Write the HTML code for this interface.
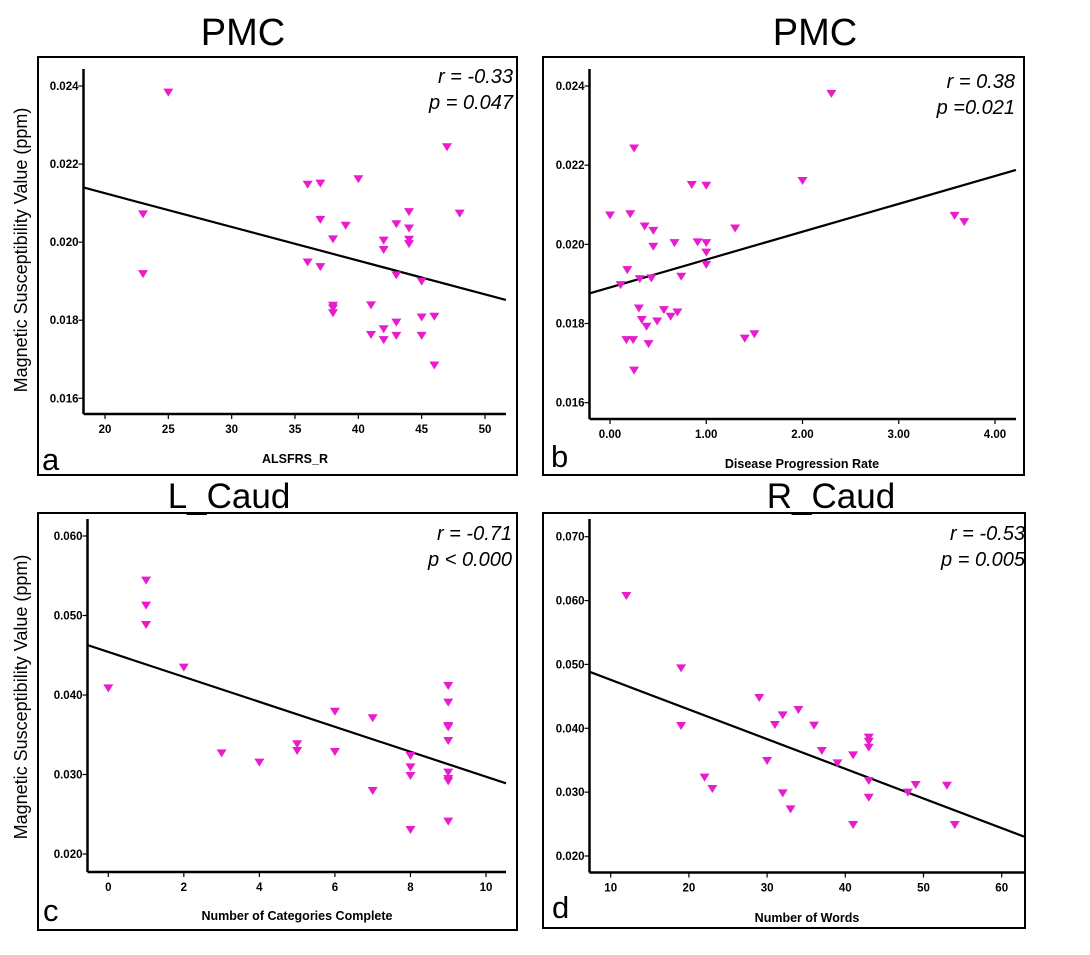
<!DOCTYPE html>
<html><head><meta charset="utf-8"><style>
html,body{margin:0;padding:0;background:#fff;width:1090px;height:955px;overflow:hidden}
svg{display:block;font-family:"Liberation Sans",sans-serif}
</style></head><body>
<svg id="fig" width="1090" height="955" viewBox="0 0 1090 955"></svg>
<script>
// Panel a: ALSFRS_R vs PMC
const aX=[25,23,23,47,48,36,37,40,37,39,38,36,37,43,44,44,44,44,42,42,43,45,38,38,38,41,45,46,43,42,41,43,45,42,46];
const aY=[0.02383,0.02071,0.01918,0.02243,0.02073,0.02147,0.02150,0.02161,0.02057,0.02042,0.02007,0.01948,0.01936,0.02046,0.02077,0.02035,0.02006,0.01995,0.02004,0.01980,0.01915,0.01899,0.01837,0.01830,0.01818,0.01838,0.01807,0.01809,0.01794,0.01777,0.01762,0.01760,0.01760,0.01749,0.01684];
const aXTicks=[20,25,30,35,40,45,50];
const aYTicks=[0.016,0.018,0.020,0.022,0.024];
const aLine=[[18.3,0.0214],[51.65,0.01852]];
// Panel b: Disease progression rate vs PMC
const bX=[2.30,0.25,2.00,0.85,1.00,0.00,0.21,3.58,3.68,1.30,0.36,0.45,0.45,0.67,0.91,1.00,1.00,1.00,0.18,0.11,0.31,0.43,0.74,0.30,0.56,0.70,0.63,0.33,0.49,0.38,0.17,0.24,0.40,1.40,1.50,0.25];
const bY=[0.02380,0.02242,0.02160,0.02150,0.02148,0.02073,0.02076,0.02072,0.02056,0.02040,0.02045,0.02034,0.01994,0.02003,0.02005,0.02003,0.01979,0.01948,0.01935,0.01897,0.01912,0.01914,0.01918,0.01838,0.01834,0.01828,0.01817,0.01809,0.01805,0.01792,0.01758,0.01758,0.01748,0.01762,0.01773,0.01681];
const bXTicks=[0,1,2,3,4];
const bXTickLabels=["0.00","1.00","2.00","3.00","4.00"];
const bYTicks=[0.016,0.018,0.020,0.022,0.024];
const bLine=[[-0.215,0.01876],[4.218,0.02188]];
// Panel c: Categories complete vs L_Caud
const cX=[0,1,1,1,2,3,4,5,5,6,6,7,7,8,8,8,8,9,9,9,9,9,9,9,9,9];
const cY=[0.04084,0.05438,0.05124,0.04880,0.04344,0.03266,0.03149,0.03380,0.03296,0.03790,0.03283,0.03707,0.02792,0.03233,0.03090,0.02981,0.02302,0.04113,0.03904,0.03610,0.03593,0.03421,0.03023,0.02943,0.02914,0.02407];
const cXTicks=[0,2,4,6,8,10];
const cYTicks=[0.020,0.030,0.040,0.050,0.060];
const cLine=[[-0.556,0.04629],[10.53,0.02889]];
// Panel d: Number of words vs R_Caud
const dX=[12,19,19,22,23,29,30,31,32,32,33,34,36,37,39,41,41,43,43,43,43,43,48,49,53,54];
const dY=[0.06071,0.04938,0.04036,0.03227,0.03049,0.04474,0.03487,0.04051,0.04202,0.02981,0.02731,0.04286,0.04041,0.03644,0.03451,0.03576,0.02485,0.03853,0.03790,0.03696,0.03174,0.02913,0.02992,0.03112,0.03101,0.02485];
const dXTicks=[10,20,30,40,50,60];
const dYTicks=[0.020,0.030,0.040,0.050,0.060,0.070];
const dLine=[[7.27,0.04886],[62.86,0.02303]];

const NS="http://www.w3.org/2000/svg";
const svg=document.getElementById('fig');
function mk(tag,attrs,parent,text){const e=document.createElementNS(NS,tag);for(const k in attrs)e.setAttribute(k,attrs[k]);if(text!==undefined)e.textContent=text;(parent||svg).appendChild(e);return e;}

function panel(p){
  const g=mk('g',{});
  
  
  const sx=v=>p.xp0+(v-p.xv0)*(p.xp1-p.xp0)/(p.xv1-p.xv0);
  const sy=v=>p.yp0+(v-p.yv0)*(p.yp1-p.yp0)/(p.yv1-p.yv0);
  const fr=mk('rect',{x:p.fx,y:p.fy,width:p.fw,height:p.fh,fill:'none',stroke:'#000','stroke-width':2},g);
  
  
  const t=mk('text',{x:p.tx,y:p.ty,'text-anchor':'middle','font-size':p.tsize},g,p.title);
  
  
  const ya=mk('line',{x1:p.ax,y1:p.atop,x2:p.ax,y2:p.ay,stroke:'#000','stroke-width':2.5},g);
  
  
  const xa=mk('line',{x1:p.ax,y1:p.ay,x2:p.aright,y2:p.ay,stroke:'#000','stroke-width':2.5},g);
  
  
  p.yt.forEach(v=>{
    const y=sy(v);
    mk('line',{x1:p.ax-5,y1:y,x2:p.ax,y2:y,stroke:'#000','stroke-width':1.2},g);
    const l=mk('text',{x:p.ax-5,y:y+4,'text-anchor':'end','font-size':11.5,'font-weight':'bold'},g,v.toFixed(3));
    
    
  });
  p.xt.forEach((v,i)=>{
    const x=sx(v);
    mk('line',{x1:x,y1:p.ay,x2:x,y2:p.ay+5,stroke:'#000','stroke-width':1.2},g);
    const l=mk('text',{x:x,y:p.ay+19,'text-anchor':'middle','font-size':11.5,'font-weight':'bold'},g,p.xl?p.xl[i]:String(v));
    
    
  });
  const rl=mk('line',{x1:sx(p.line[0][0]),y1:sy(p.line[0][1]),x2:sx(p.line[1][0]),y2:sy(p.line[1][1]),stroke:'#000','stroke-width':2.2},g);
  
  
  p.X.forEach((xv,i)=>{
    const x=sx(xv),y=sy(p.Y[i]);
    const m=mk('path',{d:`M${x-5},${y-4}L${x+5},${y-4}L${x},${y+4}Z`,fill:'#e81ccc'},g);
    
    
  });
  const r=mk('text',{x:p.rx,y:p.ry,'text-anchor':'end','font-size':20,'font-style':'italic'},g,p.r);
  
  
  const pv=mk('text',{x:p.rx,y:p.ry+26,'text-anchor':'end','font-size':20,'font-style':'italic'},g,p.p);
  
  
  const xl=mk('text',{x:p.xlx,y:p.xly,'text-anchor':'middle','font-size':12.5,'font-weight':'bold'},g,p.xlabel);
  
  
  const lt=mk('text',{x:p.lx,y:p.ly,'font-size':31},g,p.id);
  
  
  if(p.ylab){
    const yl=mk('text',{x:0,y:0,'text-anchor':'middle','font-size':18,transform:`translate(27,${p.ylab}) rotate(-90)`},g,'Magnetic Susceptibility Value (ppm)');
    
    
  }
}
panel({id:'a',X:aX,Y:aY,xt:aXTicks,yt:aYTicks,line:aLine,fx:38,fy:57,fw:479,fh:418,title:'PMC',tx:243,ty:45,tsize:38,
  ax:83.5,atop:69,ay:414,aright:506,xp0:105,xv0:20,xp1:485,xv1:50,yp0:86,yv0:0.024,yp1:398.3,yv1:0.016,
  r:'r = -0.33',p:'p = 0.047',rx:513,ry:83,xlabel:'ALSFRS_R',xlx:295,xly:463,lx:42,ly:470,ylab:250});
panel({id:'b',X:bX,Y:bY,xt:bXTicks,xl:bXTickLabels,yt:bYTicks,line:bLine,fx:543,fy:57,fw:481,fh:418,title:'PMC',tx:815,ty:45,tsize:38,
  ax:589.5,atop:69,ay:419,aright:1016,xp0:610,xv0:0,xp1:995,xv1:4,yp0:86,yv0:0.024,yp1:402.7,yv1:0.016,
  r:'r = 0.38',p:'p =0.021',rx:1015,ry:88,xlabel:'Disease Progression Rate',xlx:802,xly:468,lx:551,ly:467});
panel({id:'c',X:cX,Y:cY,xt:cXTicks,yt:cYTicks,line:cLine,fx:38,fy:513,fw:479,fh:417,title:'L_Caud',tx:229,ty:508,tsize:35,
  ax:87.5,atop:519,ay:872,aright:506,xp0:108.3,xv0:0,xp1:486,xv1:10,yp0:536,yv0:0.060,yp1:854,yv1:0.020,
  r:'r = -0.71',p:'p < 0.000',rx:512,ry:540,xlabel:'Number of Categories Complete',xlx:297,xly:920,lx:43,ly:921,ylab:697});
panel({id:'d',X:dX,Y:dY,xt:dXTicks,yt:dYTicks,line:dLine,fx:543,fy:513,fw:482,fh:415,title:'R_Caud',tx:831,ty:508,tsize:35,
  ax:589.5,atop:519,ay:872.5,aright:1024,xp0:610.7,xv0:10,xp1:1001.7,xv1:60,yp0:536.7,yv0:0.070,yp1:856,yv1:0.020,
  r:'r = -0.53',p:'p = 0.005',rx:1025,ry:540,xlabel:'Number of Words',xlx:807,xly:922,lx:552,ly:918});
</script>
</body></html>
